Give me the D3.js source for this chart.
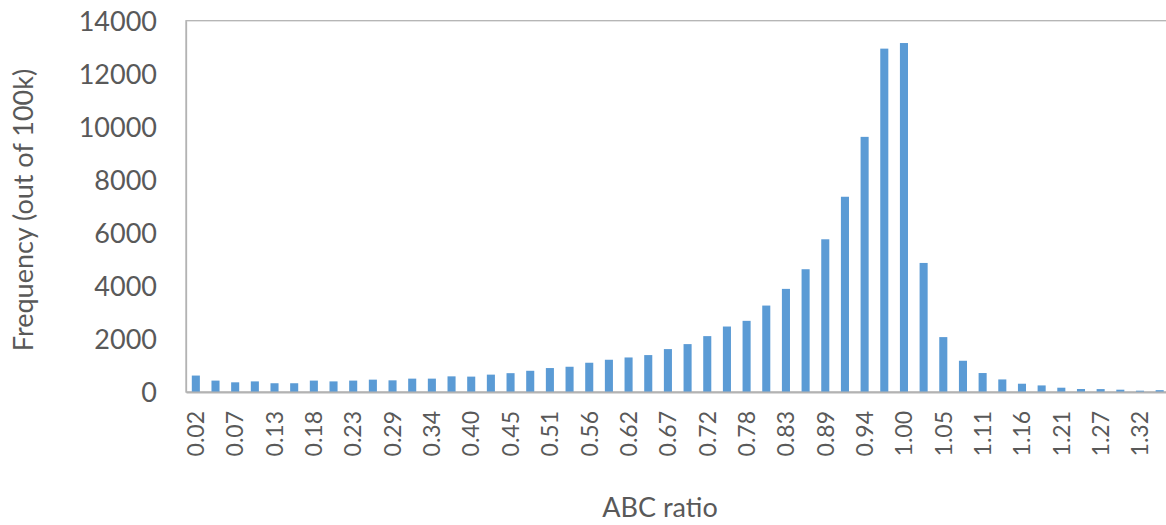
<!DOCTYPE html>
<html>
<head>
<meta charset="utf-8">
<script src="https://cdn.jsdelivr.net/npm/d3@7/dist/d3.min.js"></script>
<style>
  html, body { margin: 0; padding: 0; background: #ffffff; }
  svg { display: block; }
  text { font-family: Lato, "Open Sans", sans-serif; fill: #595959; }
</style>
</head>
<body>
<svg id="chart" width="1166" height="525"></svg>
<script>
const categories = ["0.02","0.05","0.07","0.10","0.13","0.16","0.18","0.21","0.23","0.26",
  "0.29","0.32","0.34","0.37","0.40","0.42","0.45","0.48","0.51","0.54",
  "0.56","0.59","0.62","0.64","0.67","0.70","0.72","0.75","0.78","0.81",
  "0.83","0.86","0.89","0.91","0.94","0.97","1.00","1.02","1.05","1.08",
  "1.11","1.13","1.16","1.19","1.21","1.24","1.27","1.30","1.32","1.35"];
const frequency = [620, 430, 365, 400, 330, 330, 430, 400, 430, 466,
  440, 504, 504, 590, 580, 655, 710, 800, 903, 952,
  1103, 1216, 1302, 1392, 1618, 1806, 2107, 2469, 2683, 3259,
  3888, 4629, 5758, 7362, 9620, 12947, 13158, 4866, 2070, 1178,
  715, 474, 312, 248, 162, 113, 110, 87, 50, 70];
const yTicks = [0, 2000, 4000, 6000, 8000, 10000, 12000, 14000];
const xTitle = "ABC ratio";
const yTitle = "Frequency (out of 100k)";

const svg = d3.select("#chart");
const margin = { left: 186, top: 20.7, bottom: 392, right: 1169.5 };

const x = d3.scaleBand().domain(categories).range([margin.left, margin.right]).paddingInner(0.59).paddingOuter(0.295);
const y = d3.scaleLinear().domain([0, 14000]).range([margin.bottom, margin.top]);

// plot border (top + left + right)
svg.append("rect")
  .attr("x", margin.left).attr("y", margin.top)
  .attr("width", margin.right - margin.left).attr("height", margin.bottom - margin.top)
  .attr("fill", "none").attr("stroke", "#b3b3b3").attr("stroke-width", 1.3);

// bars
svg.append("g").selectAll("rect").data(frequency).join("rect")
  .attr("x", (d, i) => x(categories[i]))
  .attr("y", d => y(d))
  .attr("width", x.bandwidth())
  .attr("height", d => y(0) - y(d))
  .attr("fill", "#5B9BD5");

// y axis
const yAxis = d3.axisLeft(y).tickValues(yTicks).tickSize(0).tickPadding(29).tickFormat(d3.format("d"));
const gy = svg.append("g").attr("transform", `translate(${margin.left},0)`).call(yAxis);
gy.select(".domain").attr("stroke", "#b3b3b3").attr("stroke-width", 1.3);
gy.selectAll("text").style("font-size", "27px").attr("fill", "#595959").attr("dy", "0.36em");

// x axis
const xAxis = d3.axisBottom(x).tickSize(0).tickFormat((d, i) => i % 2 === 0 ? d : "");
const gx = svg.append("g").attr("transform", `translate(0,${margin.bottom})`).call(xAxis);
gx.select(".domain").attr("stroke", "#b3b3b3").attr("stroke-width", 2);
gx.selectAll("text")
  .style("font-size", "23px").attr("fill", "#595959")
  .attr("text-anchor", "end")
  .attr("transform", "rotate(-90)")
  .attr("x", -19).attr("y", 0).attr("dy", "0.36em");

// titles
svg.append("text").attr("x", 660).attr("y", 517)
  .attr("text-anchor", "middle").style("font-size", "27px").text(xTitle);
svg.append("text")
  .attr("transform", "translate(33,210) rotate(-90)")
  .attr("text-anchor", "middle").style("font-size", "27px").text(yTitle);
</script>
</body>
</html>
